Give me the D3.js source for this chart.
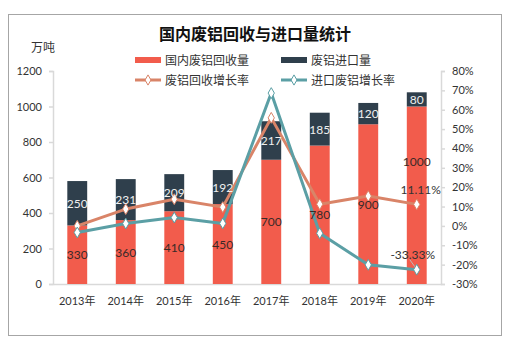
<!DOCTYPE html>
<html><head><meta charset="utf-8">
<script src="https://cdn.jsdelivr.net/npm/d3@7/dist/d3.min.js"></script>
<style>
body{margin:0;background:#fff;}
svg{font-family:Lato,"Noto Sans CJK SC",sans-serif;}
</style></head>
<body>
<svg id="c" width="521" height="343"></svg>
<script>
const categories = ["2013年","2014年","2015年","2016年","2017年","2018年","2019年","2020年"];
const domestic = [330,360,410,450,700,780,900,1000];
const imports = [250,231,209,192,217,185,120,80];
const domesticGrowth = [0.0,8.7,13.8,9.7,55.8,11.2,15.4,11.11];
const importGrowth = [-3.4,1.2,4.3,1.3,68.6,-3.8,-20.1,-22.6];
const leftTicks = [0,200,400,600,800,1000,1200];
const rightTicks = [-30,-20,-10,0,10,20,30,40,50,60,70,80];
const seriesNames = ["国内废铝回收量","废铝进口量","废铝回收增长率","进口废铝增长率"];
const colors = {dom:"#F25C4C", imp:"#2F3F4C", dg:"#D98468", ig:"#5B9FA5"};

const svg = d3.select("#c");
// frame
svg.append("rect").attr("x",8.5).attr("y",14.5).attr("width",493).attr("height",321)
  .attr("fill","#fff").attr("stroke","#a6a6a6").attr("stroke-width",1);

const L=53, R=441, T=71, B=284;
const x = d3.scaleBand().domain(categories).range([L,R]).paddingInner(0.59).paddingOuter(0.295);
const y = d3.scaleLinear().domain([0,1200]).range([B,T]);
const y2 = d3.scaleLinear().domain([-30,80]).range([B,T]);

// title
svg.append("text").attr("x",255).attr("y",40).attr("text-anchor","middle")
  .attr("font-size",16).attr("font-weight","bold").attr("fill","#111").text("国内废铝回收与进口量统计");
svg.append("text").attr("x",31).attr("y",52).attr("font-size",12).attr("fill","#333").text("万吨");

// axes
const gl = svg.append("g").attr("transform",`translate(${L},0)`)
  .call(d3.axisLeft(y).tickValues(leftTicks).tickSize(4).tickPadding(7).tickFormat(d3.format("d")));
const gr = svg.append("g").attr("transform",`translate(${R},0)`)
  .call(d3.axisRight(y2).tickValues(rightTicks).tickSize(4).tickPadding(7).tickFormat(d=>d+"%"));
const gb = svg.append("g").attr("transform",`translate(0,${B})`)
  .call(d3.axisBottom(x).tickSize(0).tickPadding(13));
[gl,gr,gb].forEach(g=>{
  g.selectAll("path,line").attr("stroke","#d9d9d9").attr("stroke-width",1.5);
  g.selectAll("text").attr("font-size",11).attr("fill","#333").attr("font-family",'Lato,"Noto Sans CJK SC",sans-serif');
});

// bars
const bw = x.bandwidth();
svg.append("g").selectAll("rect").data(categories).join("rect")
  .attr("x",d=>x(d)).attr("width",bw)
  .attr("y",(d,i)=>y(domestic[i])).attr("height",(d,i)=>y(0)-y(domestic[i]))
  .attr("fill",colors.dom);
svg.append("g").selectAll("rect").data(categories).join("rect")
  .attr("x",d=>x(d)).attr("width",bw)
  .attr("y",(d,i)=>y(domestic[i]+imports[i])).attr("height",(d,i)=>y(domestic[i])-y(domestic[i]+imports[i]))
  .attr("fill",colors.imp);

// lines
const cx = d=>x(d)+bw/2;
function drawLine(vals,color){
  const pts = categories.map((c,i)=>[cx(c),y2(vals[i])]);
  svg.append("path").attr("d",d3.line()(pts)).attr("fill","none")
    .attr("stroke",color).attr("stroke-width",3).attr("stroke-linejoin","round");
  svg.append("g").selectAll("path").data(pts).join("path")
    .attr("transform",p=>`translate(${p[0]},${p[1]})`)
    .attr("d",d3.symbol(d3.symbolDiamond,34)).attr("fill","#fff").attr("stroke",color).attr("stroke-width",1);
  return pts;
}
const pd = drawLine(domesticGrowth,colors.dg);
const pi = drawLine(importGrowth,colors.ig);

// bar labels (on top of lines)
svg.append("g").selectAll("text").data(categories).join("text")
  .attr("x",d=>x(d)+bw/2)
  .attr("y",(d,i)=>{const c=(y(0)+y(domestic[i]))/2; return (i===7? y(domestic[i])+55 : c)+4.5;})
  .attr("text-anchor","middle").attr("font-size",12).attr("fill","#3a2a28")
  .text((d,i)=>domestic[i]);
svg.append("g").selectAll("text").data(categories).join("text")
  .attr("x",d=>x(d)+bw/2)
  .attr("y",(d,i)=>(y(domestic[i])+y(domestic[i]+imports[i]))/2+4.5)
  .attr("text-anchor","middle").attr("font-size",12).attr("fill","#f0f0f0")
  .text((d,i)=>imports[i]);

// point labels for 2020
const last = categories.length-1;
svg.append("text").attr("x",pd[last][0]+4).attr("y",pd[last][1]-10).attr("text-anchor","middle")
  .attr("font-size",12).attr("fill","#333").text(domesticGrowth[last].toFixed(2)+"%");
svg.append("line").attr("x1",pi[last][0]-7).attr("y1",pi[last][1]-10).attr("x2",pi[last][0]-2).attr("y2",pi[last][1]-3)
  .attr("stroke","#bbb").attr("stroke-width",1);
svg.append("text").attr("x",pi[last][0]-4).attr("y",pi[last][1]-11).attr("text-anchor","middle")
  .attr("font-size",12).attr("fill","#333").text("-33.33%");

// legend
const lg = svg.append("g").attr("font-size",12).attr("fill","#333");
const lx = [135,281], ly=[60,80];
lg.append("rect").attr("x",lx[0]).attr("y",ly[0]-3).attr("width",26).attr("height",6).attr("fill",colors.dom);
lg.append("rect").attr("x",lx[1]).attr("y",ly[0]-3).attr("width",26).attr("height",6).attr("fill",colors.imp);
[[lx[0],colors.dg],[lx[1],colors.ig]].forEach(([xx,c])=>{
  lg.append("line").attr("x1",xx).attr("x2",xx+26).attr("y1",ly[1]).attr("y2",ly[1]).attr("stroke",c).attr("stroke-width",3);
  lg.append("path").attr("transform",`translate(${xx+13},${ly[1]})`).attr("d",d3.symbol(d3.symbolDiamond,30))
    .attr("fill","#fff").attr("stroke",c);
});
[[lx[0],ly[0],0],[lx[1],ly[0],1],[lx[0],ly[1],2],[lx[1],ly[1],3]].forEach(([xx,yy,k])=>{
  lg.append("text").attr("x",xx+30).attr("y",yy+4.5).attr("fill","#333").text(seriesNames[k]);
});
</script>
</body></html>
